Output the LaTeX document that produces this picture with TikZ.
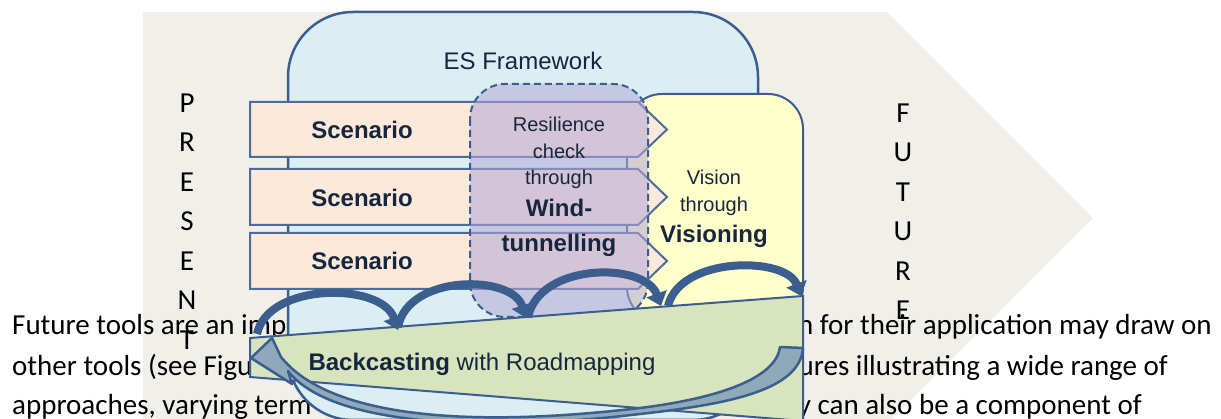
\documentclass[tikz,border=0pt]{standalone}
\usepackage{fontspec}
\setmainfont{Liberation Sans}
\newfontfamily\bodyfont{Carlito}
\usetikzlibrary{arrows.meta}
\definecolor{bgray}{HTML}{F0EFE9}
\definecolor{esblue}{HTML}{DAEEF3}
\definecolor{navy}{HTML}{3B5E8F}
\definecolor{txt}{HTML}{17263F}
\definecolor{peach}{HTML}{FDE9D9}
\definecolor{vyellow}{HTML}{FFFFCC}
\definecolor{lav}{HTML}{B4A7D6}
\definecolor{bgreen}{HTML}{D7E4BD}
\definecolor{bandfill}{HTML}{8EA9B9}
\definecolor{scborder}{HTML}{4C6C9C}
\begin{document}
\begin{tikzpicture}[x=1pt,y=-1pt,
  body/.style={font=\bodyfont\fontsize{29}{35}\selectfont, inner sep=0pt, text=black},
  letter/.style={body, anchor=center},
  lbl/.style={font=\fontsize{20}{24}\selectfont, text=txt, inner sep=0pt, anchor=base},
  lblbig/.style={font=\fontsize{24}{28}\selectfont, text=txt, inner sep=0pt, anchor=base},
  blbl/.style={font=\bfseries\fontsize{24}{28}\selectfont, text=txt, inner sep=0pt, anchor=base},
  scen/.style={draw=scborder, line width=2pt, fill=peach, line join=miter},
  hop/.style={draw=navy, line width=8pt, -{Triangle[length=13pt,width=21pt]}},
]
\path[use as bounding box] (0,0) rectangle (1221,419);
\clip (0,0) rectangle (1221,419);
% background chevron
\fill[bgray] (143,12) -- (887,12) -- (1093,218) -- (887,424) -- (143,424) -- cycle;
% document text
\node[body, anchor=base west] (l1) at (12,335) {Future tools are an imp};
\node[body, anchor=base west] (l2) at (12,376) {other tools (see Figu};
\node[body, anchor=base west] (l3) at (12,415) {approaches, varying term};
\node[body, anchor=base east] (r1) at (1212,335) {n for their application may draw on};
\node[body, anchor=base east] (r2) at (1168,376) {ures illustrating a wide range of};
\node[body, anchor=base east] (r3) at (1142,415) {y can also be a component of};
% PRESENT / FUTURE
\foreach \c [count=\i from 0] in {P,R,E,S,E,N,T}
  \node[letter] (p\i) at (187,{103+39.5*\i}) {\c};
\foreach \c [count=\i from 0] in {F,U,T,U,R,E}
  \node[letter] (f\i) at (903,{113+39.5*\i}) {\c};
% ES framework
\draw[draw=navy, line width=2.5pt, fill=esblue, rounded corners=65pt] (288,12) rectangle (758,420);
\node[lblbig] (es) at (523,70) {ES Framework};
% vision box
\draw[draw=navy, line width=2pt, fill=vyellow, rounded corners=35pt] (627,94) rectangle (803,322);
% scenarios
\draw[scen] (250,102) -- (638,102) -- (667,129.5) -- (638,157) -- (250,157) -- cycle;
\draw[scen] (250,169) -- (638,169) -- (667,197) -- (638,225) -- (250,225) -- cycle;
\draw[scen] (250,233) -- (638,233) -- (667,261) -- (638,289) -- (250,289) -- cycle;
\node[blbl] (s1) at (362,139) {Scenario};
\node[blbl] (s2) at (362,206.5) {Scenario};
\node[blbl] (s3) at (362,270) {Scenario};
% wind-tunnelling dashed box
\draw[draw=navy, line width=2pt, dash pattern=on 7pt off 4pt, fill=lav, fill opacity=0.55, rounded corners=35pt] (470,84) rectangle (648,317);
\node[lbl] (w1) at (559,132) {Resilience};
\node[lbl] (w2) at (559,159) {check};
\node[lbl] (w3) at (559,185) {through};
\node[blbl] (w4) at (559,217) {Wind-};
\node[blbl] (w5) at (559,252) {tunnelling};
% vision text
\node[lbl] (v1) at (714,185) {Vision};
\node[lbl] (v2) at (714,212) {through};
\node[blbl] (v3) at (714,243) {Visioning};
% backcasting
\draw[fill=bgreen, draw=navy, line width=2pt] (250,338) -- (803,296) -- (803,421) -- (250,377) -- cycle;
\node[lblbig] (bc) at (482,371) {\bfseries Backcasting\mdseries{} with Roadmapping};
% hops
\coordinate (a0) at (257,334); \coordinate (a1) at (398,330);
\coordinate (b0) at (398,327); \coordinate (b1) at (526,318);
\coordinate (c0) at (528,317); \coordinate (c1) at (661,306);
\coordinate (d0) at (668,306); \coordinate (d1) at (801,296);
\draw[hop] (a0) .. controls (268,282) and (382,282) .. (a1);
\draw[hop] (b0) .. controls (408,274) and (512,274) .. (b1);
\draw[hop] (c0) .. controls (540,262) and (645,262) .. (c1);
\draw[hop] (d0) .. controls (680,256) and (786,256) .. (d1);
% big return arrow
\coordinate (tailA) at (780,347); \coordinate (tailB) at (803,348);
\coordinate (tip) at (251,358);
\draw[fill=bandfill, draw=navy, line width=2.5pt, line join=round]
  (tailA) .. controls (776,378) and (720,398) .. (640,408)
          .. controls (470,428) and (330,418) .. (281,357)
  -- (272,338) -- (tip) -- (292,384) -- (288,371)
          .. controls (330,425) and (480,433) .. (640,414)
          .. controls (730,404) and (800,390) .. (tailB) -- cycle;
\end{tikzpicture}
\end{document}
